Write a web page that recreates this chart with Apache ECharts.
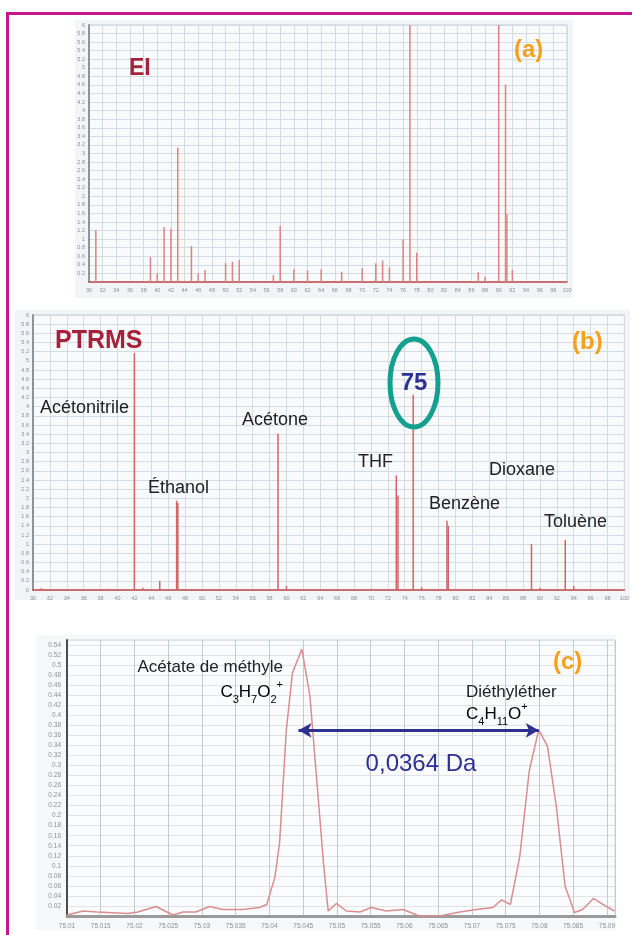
<!DOCTYPE html>
<html><head><meta charset="utf-8">
<script src="https://cdn.jsdelivr.net/npm/echarts@6/dist/echarts.min.js"></script>
<style>html,body{margin:0;padding:0;background:#fff;}#c{width:632px;height:935px;}</style>
</head><body><div id="c"></div>
<script>
// ---- Panel (a) EI spectrum ----
const eiMass = [31,39,40,41,42,43,45,46,47,50,51,52,57,58,60,62,64,67,70,72,73,74,76,77,78,87,88,90,91,91.2,92];
const eiInt  = [1.21,0.58,0.2,1.28,1.25,3.14,0.84,0.2,0.28,0.44,0.47,0.51,0.16,1.31,0.3,0.27,0.3,0.24,0.32,0.44,0.5,0.34,1.0,6,0.68,0.23,0.12,6,4.61,1.58,0.28];
// ---- Panel (b) PTR-MS spectrum ----
const ptrMass = [31,39,42,43,45,47,47.15,59,60,70,73,73.2,75,76,79,79.15,89,90,93,94];
const ptrInt  = [0.04,0.03,5.17,0.05,0.2,1.95,1.9,3.41,0.09,0.03,2.5,2.06,4.26,0.06,1.51,1.4,1.0,0.05,1.09,0.09];
// ---- Panel (c) high-resolution profile at m/z 75 ----
const hrMass = [75.0100,75.0124,75.0145,75.0190,75.0205,75.0232,75.0257,75.0272,75.0291,75.0311,75.0331,75.0360,75.0385,75.0396,75.0408,75.0415,75.0425,75.0434,75.0448,75.0460,75.0470,75.0480,75.0487,75.0499,75.0514,75.0534,75.0551,75.0573,75.0598,75.0622,75.0652,75.0682,75.0707,75.0731,75.0744,75.0757,75.0771,75.0785,75.0799,75.0812,75.0825,75.0838,75.0852,75.0864,75.0880,75.0894,75.0911];
const hrInt  = [0.002,0.010,0.008,0.005,0.008,0.019,0.002,0.008,0.008,0.019,0.013,0.013,0.017,0.023,0.077,0.146,0.371,0.484,0.532,0.438,0.272,0.106,0.010,0.025,0.010,0.008,0.017,0.010,0.013,0.000,0.000,0.008,0.013,0.017,0.032,0.023,0.120,0.290,0.371,0.338,0.219,0.060,0.007,0.013,0.035,0.023,0.010];
const arrowFrom = [75.0443, 0.37];
const arrowTo   = [75.0799, 0.37];
// axis ranges / tick steps
const massRange = [30, 100], massStep = 2;
const intRange = [0, 6], intStep = 0.2;
const hrMassRange = [75.01, 75.0912], hrMassStep = 0.005;
const hrIntRange = [0, 0.55], hrIntStep = 0.02;

const FONT = '"Liberation Sans", Arial, sans-serif';
const chart = echarts.init(document.getElementById('c'), null, {renderer:'canvas'});

function txt(x, y, text, size, color, opt) {
  opt = opt || {};
  return {type:'text', z:100, style:Object.assign({x:x, y:y, text:text, fontSize:size, fill:color,
    fontFamily:FONT, fontWeight:opt.bold?'bold':'normal', align:opt.align||'left', verticalAlign:'middle'}, opt.extra||{})};
}
const tickLbl = {fontSize:5.5, color:'#8a8f96', fontFamily:FONT};
function specX(idx){return {gridIndex:idx, type:'value', min:massRange[0], max:massRange[1], interval:massStep,
  axisLine:{show:true, onZero:false, lineStyle:{color:'#c64b4b', width:1.5}}, axisTick:{show:false},
  axisLabel:Object.assign({margin:5}, tickLbl), splitLine:{show:true, lineStyle:{color:'#d4dbe3', width:1}}};}
function specY(idx, hideZero){return {gridIndex:idx, type:'value', min:intRange[0], max:intRange[1], interval:intStep,
  axisLine:{show:true, lineStyle:{color:'#8e949a', width:2}}, axisTick:{show:false},
  axisLabel:Object.assign({margin:4, formatter:v=> (hideZero && v===0)?'':String(+v.toFixed(1))}, tickLbl),
  splitLine:{show:true, lineStyle:{color:'#d4dbe3', width:1}}};}

const formulaRich = {
  n:{fontSize:17, lineHeight:26, fontFamily:FONT, color:'#222'},
  s:{fontSize:11, lineHeight:14, fontFamily:FONT, color:'#222', verticalAlign:'bottom'},
  p:{fontSize:11, lineHeight:14, fontFamily:FONT, color:'#222', verticalAlign:'top'}
};

chart.setOption({
  animation:false,
  backgroundColor:'#ffffff',
  grid:[
    {left:89, top:25, width:478, height:257, show:true, backgroundColor:'#f8fafc', borderColor:'#c3cad2', borderWidth:1},
    {left:33, top:315, width:592, height:275, show:true, backgroundColor:'#f8fafc', borderColor:'#c3cad2', borderWidth:1},
    {left:67, top:640, width:548, height:276, show:true, backgroundColor:'#fbfcfd', borderColor:'#d0d4d8', borderWidth:1}
  ],
  xAxis:[specX(0), specX(1),
    {gridIndex:2, type:'value', min:hrMassRange[0], max:hrMassRange[1], interval:hrMassStep,
     axisLine:{show:true, onZero:false, lineStyle:{color:'#9a9a9a', width:3}}, axisTick:{show:false},
     axisLabel:Object.assign({margin:7, showMaxLabel:false, formatter:v=>String(+v.toFixed(3))}, tickLbl, {fontSize:6.5}),
     splitLine:{show:true, lineStyle:{color:'#c6cace', width:1}}}],
  yAxis:[specY(0,true), specY(1,false),
    {gridIndex:2, type:'value', min:hrIntRange[0], max:hrIntRange[1], interval:hrIntStep,
     axisLine:{show:true, lineStyle:{color:'#4a4a4a', width:2}}, axisTick:{show:false},
     axisLabel:Object.assign({margin:6, showMaxLabel:false, formatter:v=> v===0?'':String(+v.toFixed(2))}, tickLbl, {fontSize:6.5}),
     splitLine:{show:true, lineStyle:{color:'#e0e4e8', width:1}}}],
  series:[
    {type:'bar', xAxisIndex:0, yAxisIndex:0, barWidth:1.5, clip:true,
     itemStyle:{color:'#dc8383'}, data:eiMass.map((m,i)=>[m,eiInt[i]])},
    {type:'bar', xAxisIndex:1, yAxisIndex:1, barWidth:1.5, clip:true,
     itemStyle:{color:'#d26464'}, data:ptrMass.map((m,i)=>[m,ptrInt[i]])},
    {type:'line', xAxisIndex:2, yAxisIndex:2, showSymbol:false, smooth:false,
     lineStyle:{color:'#d98e8e', width:1.5}, data:hrMass.map((m,i)=>[m,hrInt[i]]),
     markLine:{silent:true, symbol:['arrow','arrow'], symbolSize:[11,13], label:{show:false},
       lineStyle:{color:'#2e3192', width:3, type:'solid'},
       data:[[{coord:arrowFrom},{coord:arrowTo}]]}}
  ],
  graphic:[
    // page frame
    {type:'line', z:50, shape:{x1:7.5, y1:13.5, x2:632, y2:13.5}, style:{stroke:'#c8168f', lineWidth:3}},
    {type:'line', z:50, shape:{x1:7.5, y1:12, x2:7.5, y2:935}, style:{stroke:'#c8168f', lineWidth:3}},
    // panel backgrounds
    {type:'rect', z:-10, shape:{x:75, y:20, width:498, height:278}, style:{fill:'#f2f5f8'}},
    {type:'rect', z:-10, shape:{x:15, y:310, width:615, height:290}, style:{fill:'#f2f5f8'}},
    {type:'rect', z:-10, shape:{x:36, y:635, width:580, height:295}, style:{fill:'#f7f8fa'}},
    // panel (a)
    txt(129, 69, 'EI', 23, '#a8213a', {bold:true}),
    txt(514, 50, '(a)', 24, '#f4a11c', {bold:true}),
    // panel (b)
    txt(55, 341, 'PTRMS', 25, '#a8213a', {bold:true}),
    txt(572, 342, '(b)', 24, '#f4a11c', {bold:true}),
    txt(40, 408, 'Acétonitrile', 18, '#222'),
    txt(148, 488, 'Éthanol', 18, '#222'),
    txt(242, 420, 'Acétone', 18, '#222'),
    txt(358, 462, 'THF', 18, '#222'),
    txt(429, 504, 'Benzène', 18, '#222'),
    txt(489, 470, 'Dioxane', 18, '#222'),
    txt(544, 522, 'Toluène', 18, '#222'),
    {type:'ellipse', z:90, shape:{cx:414, cy:383, rx:24, ry:44}, style:{fill:null, stroke:'#14a08e', lineWidth:5}},
    txt(414, 383, '75', 24, '#2e3192', {bold:true, align:'center'}),
    // panel (c)
    txt(553, 662, '(c)', 24, '#f4a11c', {bold:true}),
    txt(283, 667, 'Acétate de méthyle', 17, '#222', {align:'right'}),
    {type:'text', z:100, style:{x:283, y:692, align:'right', verticalAlign:'middle',
      text:'{n|C}{s|3}{n|H}{s|7}{n|O}{s|2}{p|+}', rich:formulaRich, fontFamily:FONT}},
    txt(466, 692, 'Diéthyléther', 17, '#222'),
    {type:'text', z:100, style:{x:466, y:714, align:'left', verticalAlign:'middle',
      text:'{n|C}{s|4}{n|H}{s|11}{n|O}{p|+}', rich:formulaRich, fontFamily:FONT}},
    txt(421, 764, '0,0364 Da', 24, '#2e3192', {align:'center'})
  ]
});
</script></body></html>
